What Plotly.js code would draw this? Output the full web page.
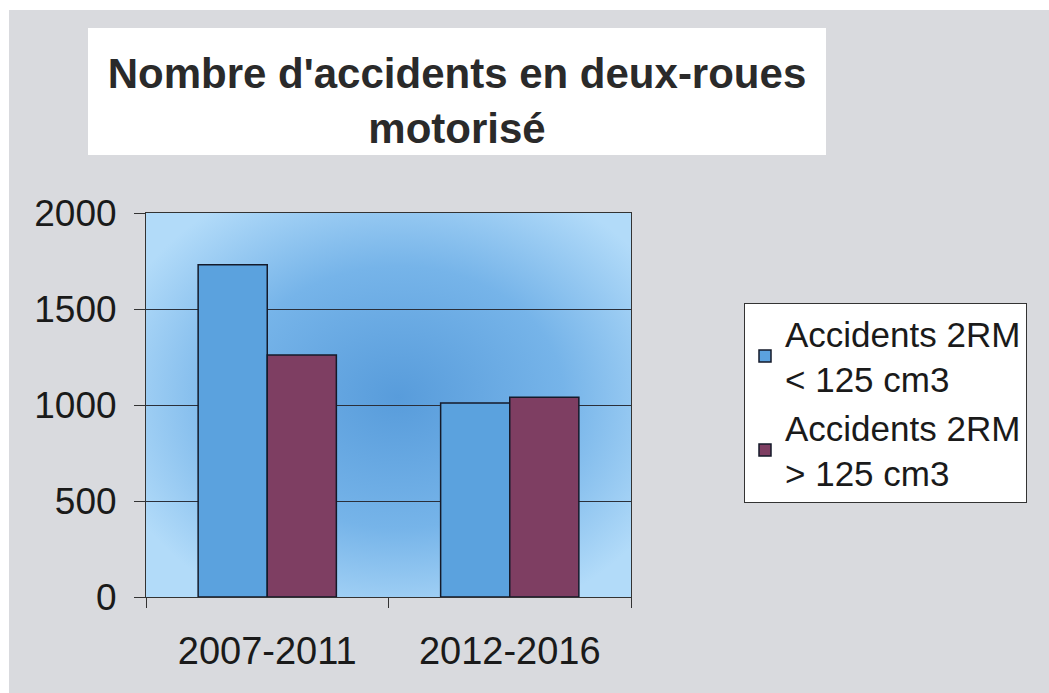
<!DOCTYPE html>
<html>
<head>
<meta charset="utf-8">
<script src="https://cdn.plot.ly/plotly-3.0.1.min.js"></script>
<style>html,body{margin:0;padding:0;background:#fff;}#chart{width:1049px;height:693px;}</style>
</head>
<body>
<div id="chart"></div>
<script>
var categories = ['2007-2011', '2012-2016'];
var seriesNames = ['Accidents 2RM<br>< 125 cm3', 'Accidents 2RM<br>> 125 cm3'];
var under125 = [1730, 1010];
var over125 = [1260, 1040];
var yTicks = [0, 500, 1000, 1500, 2000];

var svg = '<svg xmlns="http://www.w3.org/2000/svg" width="485" height="384" preserveAspectRatio="none">' +
  '<defs><radialGradient id="g" cx="52%" cy="48%" r="62%">' +
  '<stop offset="0%" stop-color="#589cdb"/>' +
  '<stop offset="55%" stop-color="#76b4e9"/>' +
  '<stop offset="100%" stop-color="#b2dbf9"/>' +
  '</radialGradient></defs><rect width="485" height="384" fill="url(#g)"/></svg>';
var bgURI = 'data:image/svg+xml;charset=utf-8,' + encodeURIComponent(svg);

var font = 'Liberation Sans, Arial, sans-serif';

var traces = [
  {type: 'bar', name: seriesNames[0], x: categories, y: under125,
   marker: {color: '#5ba2de', line: {color: '#141a2a', width: 1.5}}},
  {type: 'bar', name: seriesNames[1], x: categories, y: over125,
   marker: {color: '#7e3e62', line: {color: '#141a2a', width: 1.5}}}
];

var layout = {
  width: 1049, height: 693,
  margin: {l: 146, r: 418, t: 213, b: 96},
  paper_bgcolor: '#d9dade',
  plot_bgcolor: '#86bdec',
  barmode: 'group',
  bargap: 0.43,
  bargroupgap: 0,
  title: {
    text: "<b>Nombre d'accidents en deux-roues<br>motorisé</b>",
    font: {family: font, size: 42, color: '#2a2a2a'},
    x: 457 / 1049, xanchor: 'center', xref: 'container',
    y: 1 - 88 / 693, yanchor: 'middle', yref: 'container'
  },
  xaxis: {
    type: 'category',
    tickson: 'boundaries',
    ticks: 'outside', ticklen: 10, tickcolor: '#333', tickwidth: 1,
    showline: true, linecolor: '#333', linewidth: 1, mirror: true,
    showgrid: false,
    tickfont: {family: font, size: 38, color: '#1a1a1a'},
    ticklabelstandoff: 20
  },
  yaxis: {
    range: [0, 2000],
    tickvals: yTicks,
    ticks: 'outside', ticklen: 11, tickcolor: '#333', tickwidth: 1,
    showline: true, linecolor: '#333', linewidth: 1, mirror: true,
    showgrid: true, gridcolor: '#2a2f3a', gridwidth: 1,
    zeroline: false,
    tickfont: {family: font, size: 37, color: '#1a1a1a'},
    ticklabelstandoff: 10
  },
  legend: {
    x: (744 - 146) / 485, y: (597 - 303) / 384,
    xanchor: 'left', yanchor: 'top',
    bgcolor: '#ffffff', bordercolor: '#333', borderwidth: 1,
    font: {family: font, size: 35, color: '#1a1a1a'},
    tracegroupgap: 4,
    itemwidth: 30
  },
  images: [{
    source: bgURI, xref: 'paper', yref: 'paper',
    x: 0, y: 1, sizex: 1, sizey: 1,
    xanchor: 'left', yanchor: 'top', sizing: 'stretch', layer: 'below'
  }],
  shapes: [
    {type: 'rect', xref: 'paper', yref: 'paper', layer: 'below',
     x0: (88 - 146) / 485, x1: (826 - 146) / 485,
     y0: (597 - 155) / 384, y1: (597 - 28) / 384,
     fillcolor: '#ffffff', line: {width: 0}},
    {type: 'rect', xref: 'paper', yref: 'paper', layer: 'below',
     x0: -0.31, x1: (9 - 146) / 485, y0: -0.3, y1: 1.6,
     fillcolor: '#ffffff', line: {width: 0}},
    {type: 'rect', xref: 'paper', yref: 'paper', layer: 'below',
     x0: -0.31, x1: 1.9, y0: (597 - 10) / 384, y1: 1.6,
     fillcolor: '#ffffff', line: {width: 0}}
  ],
  showlegend: true
};

Plotly.newPlot('chart', traces, layout, {displayModeBar: false, staticPlot: true});
</script>
</body>
</html>
